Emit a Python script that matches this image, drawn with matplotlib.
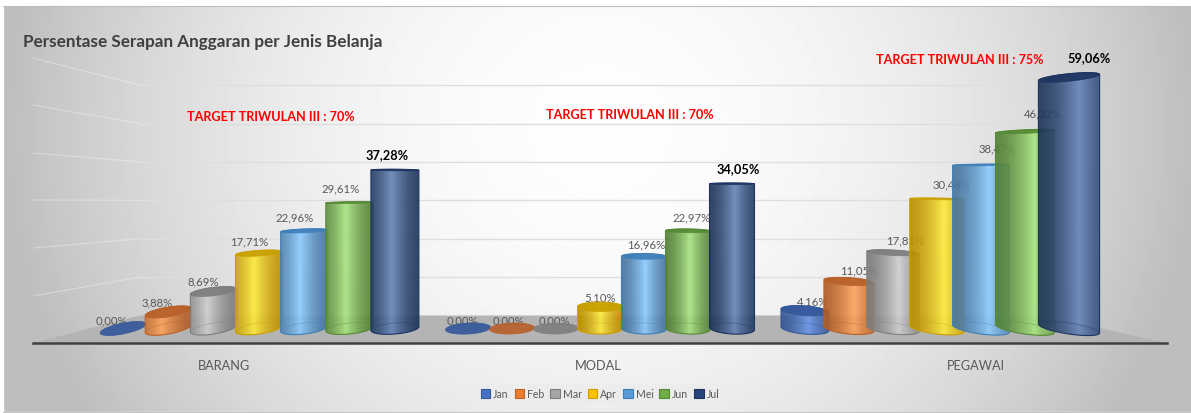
import numpy as np
import matplotlib
matplotlib.use('Agg')
import matplotlib.pyplot as plt
from matplotlib.colors import to_rgb
from matplotlib.patches import PathPatch, Patch, Polygon
from matplotlib.path import Path

plt.rcParams['font.family'] = ['Lato', 'DejaVu Sans']

groups = ['BARANG', 'MODAL', 'PEGAWAI']
months = ['Jan', 'Feb', 'Mar', 'Apr', 'Mei', 'Jun', 'Jul']
jan = [0.00, 0.00, 4.16]
feb = [3.88, 0.00, 11.05]
mar = [8.69, 0.00, 17.81]
apr = [17.71, 5.10, 30.48]
mei = [22.96, 16.96, 38.47]
jun = [29.61, 22.97, 46.32]
jul = [37.28, 34.05, 59.06]
series = [jan, feb, mar, apr, mei, jun, jul]
targets = ['TARGET TRIWULAN III : 70%', 'TARGET TRIWULAN III : 70%', 'TARGET TRIWULAN III : 75%']

colors = ['#4472C4', '#ED7D31', '#A5A5A5', '#FFC000', '#5B9BD5', '#70AD47', '#264478']
lights = ['#6A97EA', '#FFA45C', '#CFCFCF', '#FFEC3C', '#8CCBFF', '#A8E480', '#6585B8']
caps = ['#34589A', '#B8602A', '#7E7E7E', '#C9A000', '#3F7FB8', '#558A35', '#1D3560']

# layout, in pixels of the 1191x413 picture
W, H = 1191, 413
base_px, px_per_pct = 328.5, 4.25
group_x = [259, 600, 937]
group_step = [45.3, 44, 44]
group_w0 = [46, 45, 48]
group_dw = [0.33, 0, 2.2]
label_x = [249, 600, 951]
target_xy = [(271, 117), (630, 115), (960, 60)]
tick_x = [224, 598, 976]
eye = 35
mid_x = 596


def val(py):
    return (base_px - py) / px_per_pct


def ellipse(cx, w, v, t):
    # flattened circle, seen from an eye level at 35%, leaning towards the middle
    b = max(5.5 * abs(eye - v) / eye, 0.8)
    skew = 4.5 * (v - eye) / eye * (cx - mid_x) / 480
    x = cx + w / 2 * np.cos(t)
    y = v + (b * np.sin(t) + skew * np.cos(t)) / px_per_pct
    return np.column_stack([x, y])


def cylinder(ax, cx, w, v, m, z):
    if v > 0:
        top = ellipse(cx, w, v, np.linspace(np.pi, 0, 40))
        bottom = ellipse(cx, w, 0, np.linspace(0, -np.pi, 40))
        pts = np.vstack([top, bottom, top[:1]])
        path = Path(pts)

        u = np.linspace(0, 1, 80)
        h = 0.5 + 0.00035 * (cx - mid_x)
        s = (1 - np.abs(u - h) / max(h, 1 - h)) ** 1.5
        dark = np.array(to_rgb(colors[m])) * 0.74
        light = np.array(to_rgb(lights[m]))
        rgba = np.ones((1, 80, 4))
        rgba[0, :, :3] = dark + (light - dark) * s[:, None]
        rgba[0, :, 3] = 0.9

        im = ax.imshow(rgba, extent=(cx - w / 2, cx + w / 2, val(340), val(60)),
                       aspect='auto', interpolation='bilinear', zorder=z)
        outline = PathPatch(path, facecolor='none', edgecolor=caps[m], lw=0.8,
                            transform=ax.transData, zorder=z + 0.1)
        ax.add_patch(outline)
        im.set_clip_path(outline)
        back = ellipse(cx, w, 0, np.linspace(0, np.pi, 40))
        ax.plot(back[:, 0], back[:, 1], color=caps[m], lw=0.5, alpha=0.45, zorder=z + 0.1)

    cap = ellipse(cx, w, v, np.linspace(0, 2 * np.pi, 80))
    ax.add_patch(Polygon(cap, closed=True, facecolor=caps[m], edgecolor=caps[m], lw=0.5,
                         alpha=0.92, zorder=z + 0.2))


fig = plt.figure(figsize=(W / 100, H / 100), dpi=100)
fig.patch.set_facecolor('white')

# chart area background
bg = fig.add_axes([0, 0, 1, 1], zorder=0)
yy, xx = np.mgrid[0:H, 0:W]
r2 = ((xx - 600) / 560) ** 2 + ((yy - 130) / 520) ** 2
shade = np.clip(253 - 56 * r2, 190, 253) / 255
bg.imshow(shade, cmap='gray', vmin=0, vmax=1, extent=(0, W, H, 0), aspect='auto')
bg.set_xlim(0, W)
bg.set_ylim(H, 0)
bg.axis('off')
for rect in [(0, 0, W, 5), (0, 412, W, 1), (0, 0, 3, H)]:
    bg.add_patch(plt.Rectangle(rect[:2], rect[2], rect[3], color='white', zorder=2))
bg.plot([3, W], [5.5, 5.5], color='#BDBDBD', lw=0.8, zorder=3)
bg.plot([3, W], [411.5, 411.5], color='#C4C4C4', lw=0.8, zorder=3)

x0, x1, y_bottom, y_top = 33, 1167, 343, 30
ax = fig.add_axes([x0 / W, 1 - y_bottom / H, (x1 - x0) / W, (y_bottom - y_top) / H], zorder=1)
ax.patch.set_visible(False)

# floor and walls
ax.add_patch(Polygon([(x0, val(343)), (140, val(315.5)), (1043, val(315.5)), (x1, val(343))],
                     closed=True, facecolor='#B4B4B4', edgecolor='none', zorder=1))
for level, left_py in zip(range(10, 70, 10), [296, 248, 200, 153, 105, 58]):
    py = 315.5 - 3.84 * level
    ax.plot([140, 1043], [val(py), val(py)], color='#DEDEDE', lw=1.0, zorder=1)
    ax.plot([x0, 140], [val(left_py), val(py)], color='white', lw=0.9, alpha=0.3, zorder=1)

for g in range(len(groups)):
    for m, values in enumerate(series):
        z = 3 + m
        cx = group_x[g] + group_step[g] * (m - 3)
        w = group_w0[g] + group_dw[g] * m
        v = values[g]
        last = m == len(series) - 1
        ax.text(label_x[g] + 46 * (m - 3), v + (8 + 0.2 * v) / px_per_pct,
                f'{v:.2f}%'.replace('.', ','), ha='center', va='center',
                fontsize=8.2 if not last else 9.2,
                fontweight='bold' if last else 'normal',
                color='black' if last else '#595959', zorder=z - 0.5)
        cylinder(ax, cx, w, v, m, z)

ax.set_xlim(x0, x1)
ax.set_ylim(val(y_bottom), val(y_top))
ax.set_xticks(tick_x, groups)
ax.set_yticks([])
ax.tick_params(axis='x', length=0, pad=12, labelsize=9.2, labelcolor='#595959')
for side in ['top', 'left', 'right']:
    ax.spines[side].set_visible(False)
ax.spines['bottom'].set_color('#404040')
ax.spines['bottom'].set_linewidth(1.8)

fig.text(23 / W, 1 - 42 / H, 'Persentase Serapan Anggaran per Jenis Belanja', fontsize=12.3,
         fontweight='bold', color='#404040', ha='left', va='center')
for text, (tx, ty) in zip(targets, target_xy):
    fig.text(tx / W, 1 - ty / H, text, color='#FF0000', fontsize=9.1, fontweight='bold',
             ha='center', va='center', zorder=20)

handles = [Patch(facecolor=c, edgecolor=e, lw=0.8) for c, e in zip(colors, caps)]
leg = fig.legend(handles, months, loc='center', bbox_to_anchor=(600 / W, 1 - 394 / H), ncol=7,
                 fontsize=7.6, frameon=True, facecolor='#ECECEC', edgecolor='none', framealpha=0.7,
                 handlelength=0.9, handleheight=0.9, handletextpad=0.3, columnspacing=0.55,
                 labelcolor='#595959', borderpad=0.45, fancybox=False)

fig.savefig('out.png', dpi=100)
